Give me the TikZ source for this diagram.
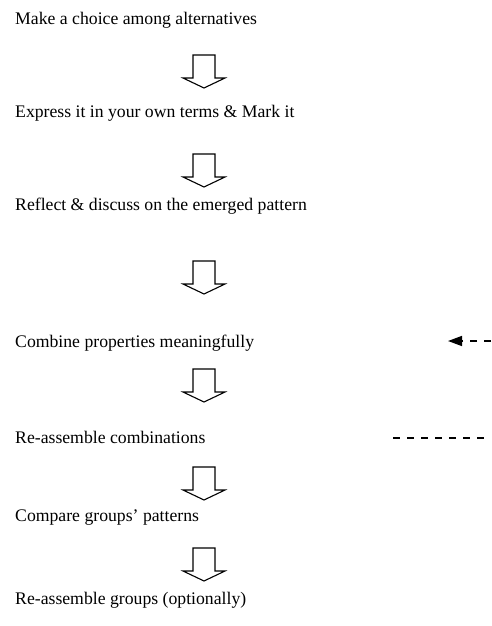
\documentclass[tikz,border=0pt]{standalone}
\usepackage{fontspec}
\setmainfont{Liberation Serif}
\usetikzlibrary{arrows.meta}
\begin{document}
\begin{tikzpicture}[x=1pt,y=-1pt,
  steptext/.style={anchor=west,inner sep=0pt,font=\fontsize{17.7}{20}\selectfont},
  downarrow/.pic={\draw[line width=1.1pt,line join=miter]
    (-11,0) -- (11,0) -- (11,23) -- (21,23) -- (0,33) -- (-21,23) -- (-11,23) -- cycle;},
  loopline/.style={line width=1.4pt,dash pattern=on 7pt off 7pt}]
\useasboundingbox (0,0) rectangle (491,626);
\node[steptext] (s1) at (15,20)  {Make a choice among alternatives};
\node[steptext] (s2) at (15,113) {Express it in your own terms \& Mark it};
\node[steptext] (s3) at (15,206) {Reflect \& discuss on the emerged pattern};
\node[steptext] (s4) at (15,343) {Combine properties meaningfully};
\node[steptext] (s5) at (15,437) {Re-assemble combinations};
\node[steptext] (s6) at (15,518) {Compare groups’ patterns};
\node[steptext] (s7) at (15,600) {Re-assemble groups (optionally)};
\pic at (204,55)  {downarrow};
\pic at (204,154) {downarrow};
\pic at (204,261) {downarrow};
\pic at (204,369) {downarrow};
\pic at (204,467) {downarrow};
\pic at (204,548) {downarrow};
% feedback loop entering and leaving on the right
\coordinate (inR) at (491,341);
\coordinate (inL) at (448,341);
\coordinate (outL) at (393,438);
\coordinate (outR) at (491,438);
\draw[loopline,-{Triangle[length=14pt,width=10pt]}] (inR) -- (inL);
\draw[loopline] (outL) -- (outR);
\end{tikzpicture}
\end{document}
